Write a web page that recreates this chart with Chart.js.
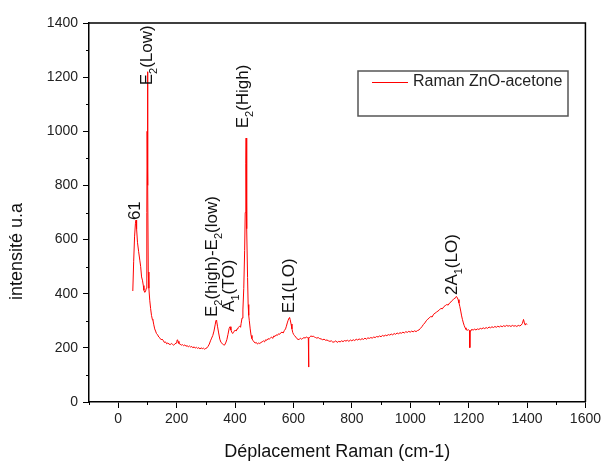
<!DOCTYPE html>
<html>
<head>
<meta charset="utf-8">
<script src="https://cdn.jsdelivr.net/npm/chart.js@4"></script>
<style>
  html, body { margin: 0; padding: 0; background: #fff; }
  #wrap { width: 604px; height: 461px; }
</style>
</head>
<body>
<div id="wrap"><canvas id="chart" width="604" height="461"></canvas></div>
<script>
// Raman shift (cm-1) and intensity (u.a)
const ramanShift = [
  50, 53, 56, 59, 61, 63, 66, 70, 74, 77, 80, 83, 86, 88, 91, 94, 96, 98, 99, 100,
  101, 102, 103, 105, 108, 111, 114, 117, 119, 122, 125, 128, 131, 135, 139, 143, 147, 150, 154, 158,
  162, 166, 170, 174, 178, 182, 186, 190, 194, 198, 201, 203, 205, 208, 212, 216, 220, 224, 228, 232,
  236, 240, 244, 248, 252, 256, 260, 264, 268, 272, 276, 280, 284, 288, 292, 296, 300, 304, 308, 312,
  316, 320, 324, 328, 332, 335, 337, 340, 344, 348, 352, 356, 360, 364, 368, 372, 376, 380, 383, 386,
  389, 392, 395, 398, 401, 404, 407, 410, 413, 416, 419, 421, 424, 427, 430, 433, 435, 437, 438, 439,
  440, 441, 443, 445, 447, 449, 452, 455, 458, 461, 465, 469, 473, 477, 481, 485, 489, 493, 497, 501,
  505, 509, 513, 517, 521, 525, 529, 533, 537, 541, 545, 549, 553, 557, 561, 565, 569, 573, 576, 579,
  582, 585, 587, 589, 592, 595, 598, 601, 604, 608, 612, 616, 620, 624, 628, 632, 636, 640, 644, 648,
  651, 652, 653, 656, 660, 664, 668, 672, 676, 680, 685, 690, 695, 700, 705, 710, 715, 720, 725, 730,
  735, 740, 745, 750, 755, 760, 765, 770, 775, 780, 785, 790, 795, 800, 805, 810, 815, 820, 825, 830,
  835, 840, 845, 850, 855, 860, 865, 870, 875, 880, 885, 890, 895, 900, 905, 910, 915, 920, 925, 930,
  935, 940, 945, 950, 955, 960, 965, 970, 975, 980, 985, 990, 995, 1000, 1005, 1010, 1015, 1020, 1025, 1030,
  1035, 1040, 1045, 1050, 1055, 1060, 1065, 1070, 1075, 1080, 1085, 1090, 1095, 1100, 1105, 1110, 1115, 1120, 1125, 1130,
  1135, 1140, 1145, 1150, 1155, 1158, 1161, 1164, 1167, 1170, 1173, 1176, 1179, 1182, 1185, 1188, 1191, 1195, 1199, 1203,
  1204, 1205, 1208, 1212, 1216, 1220, 1225, 1230, 1235, 1240, 1245, 1250, 1255, 1260, 1265, 1270, 1275, 1280, 1285, 1290,
  1295, 1300, 1305, 1310, 1315, 1320, 1325, 1330, 1335, 1340, 1345, 1350, 1355, 1360, 1365, 1370, 1375, 1380, 1384, 1388,
  1391, 1394, 1397, 1400
];
const intensity = [
  410, 520, 610, 660, 672, 640, 590, 555, 524, 500, 462, 450, 430, 413, 405, 410, 420, 700, 1000, 1220,
  1150, 800, 480, 420, 376, 345, 320, 305, 302, 285, 270, 262, 253, 248, 240, 236, 230, 232, 228, 220,
  222, 215, 218, 214, 212, 216, 213, 210, 214, 218, 226, 230, 224, 216, 214, 210, 212, 208, 211, 206,
  208, 204, 207, 203, 205, 200, 204, 199, 202, 198, 201, 196, 200, 197, 199, 195, 198, 200, 206, 214,
  226, 236, 246, 262, 285, 302, 300, 280, 255, 232, 220, 216, 212, 210, 218, 230, 250, 272, 278, 266,
  258, 253, 258, 262, 266, 262, 270, 274, 277, 280, 276, 290, 310, 340, 420, 560, 700, 880, 975, 960,
  820, 640, 460, 360, 320, 300, 270, 246, 234, 228, 222, 218, 220, 214, 218, 216, 220, 222, 226, 222,
  230, 228, 234, 232, 236, 240, 235, 244, 242, 248, 246, 252, 250, 256, 258, 255, 264, 270, 280, 292,
  302, 310, 312, 304, 288, 270, 256, 249, 245, 240, 234, 231, 231, 236, 232, 235, 238, 236, 240, 238,
  237, 129, 236, 240, 244, 242, 243, 240, 238, 236, 238, 234, 233, 230, 232, 228, 229, 226, 224, 226,
  221, 222, 226, 220, 224, 222, 226, 223, 227, 225, 228, 224, 229, 226, 230, 227, 232, 229, 233, 230,
  234, 231, 236, 232, 237, 235, 238, 236, 240, 238, 242, 240, 244, 241, 246, 243, 247, 245, 249, 247,
  251, 248, 253, 250, 255, 252, 256, 254, 258, 255, 260, 257, 261, 258, 262, 259, 263, 260, 264, 266,
  272, 278, 286, 292, 300, 306, 310, 316, 314, 324, 328, 332, 336, 340, 346, 344, 352, 356, 360, 358,
  366, 370, 376, 382, 384, 390, 386, 378, 366, 352, 336, 318, 304, 292, 282, 274, 268, 265, 267, 264,
  201, 262, 266, 268, 265, 270, 266, 270, 268, 272, 270, 274, 271, 275, 272, 277, 274, 278, 275, 279,
  276, 280, 277, 281, 278, 282, 279, 283, 280, 282, 279, 283, 280, 282, 279, 283, 281, 284, 290, 305,
  292, 284, 290, 286
];

// peak labels: text ('_' = next char subscript) and anchor (shift, intensity)
const peakLabels = ['61', 'E_2(Low)', 'E_2(high)-E_2(low)', 'A_1(TO)', 'E_2(High)', 'E1(LO)', '2A_1(LO)'];
const peakShift = [74, 115, 338, 395, 444, 603, 1160];
const peakLevel = [672, 1170, 314, 333, 1011, 328, 395];

const xRange = [-100, 1600];
const xTickLabels = [0, 200, 400, 600, 800, 1000, 1200, 1400, 1600];
const yRange = [0, 1400];
const yTickLabels = [0, 200, 400, 600, 800, 1000, 1200, 1400];

const FONT = "'Liberation Sans', Arial, sans-serif";

function drawRotated(ctx, x, y, label, size) {
    ctx.save();
    ctx.translate(x, y);
    ctx.rotate(-Math.PI / 2);
    ctx.textAlign = 'left';
    ctx.textBaseline = 'alphabetic';
    ctx.fillStyle = '#111';
    let cx = 0;
    for (let i = 0; i < label.length; i++) {
        let ch = label[i];
        let sub = false;
        if (ch === '_') { sub = true; i++; ch = label[i]; }
        ctx.font = (sub ? Math.round(size * 0.65) : size) + 'px ' + FONT;
        ctx.fillText(ch, cx, sub ? size * 0.3 : 0);
        cx += ctx.measureText(ch).width;
    }
    ctx.restore();
}

const decorPlugin = {
    id: 'decor',
    afterDraw(chart) {
        const ctx = chart.ctx;
        const area = chart.chartArea;
        const xs = chart.scales.x, ys = chart.scales.y;

        // frame top and right
        ctx.save();
        ctx.strokeStyle = '#000';
        ctx.lineWidth = 1.5;
        ctx.beginPath();
        ctx.moveTo(area.left, area.top);
        ctx.lineTo(area.right, area.top);
        ctx.lineTo(area.right, area.bottom);
        ctx.stroke();

        // minor ticks, halfway between labelled ones
        ctx.lineWidth = 1;
        ctx.beginPath();
        for (let v = xRange[0]; v < xRange[1]; v += 200) {
            const px = Math.round(xs.getPixelForValue(v)) + 0.5;
            ctx.moveTo(px, area.bottom);
            ctx.lineTo(px, area.bottom + 3);
        }
        for (let v = yRange[0] + 100; v < yRange[1]; v += 200) {
            const py = Math.round(ys.getPixelForValue(v)) + 0.5;
            ctx.moveTo(area.left, py);
            ctx.lineTo(area.left - 3, py);
        }
        ctx.stroke();

        // legend box
        const lx = area.left + 269, ly = area.top + 48;
        ctx.strokeStyle = '#555';
        ctx.lineWidth = 1.5;
        ctx.strokeRect(lx, ly, 210, 45);
        ctx.strokeStyle = chart.data.datasets[0].borderColor;
        ctx.lineWidth = 1;
        ctx.beginPath();
        ctx.moveTo(lx + 14, ly + 11.5);
        ctx.lineTo(lx + 50, ly + 11.5);
        ctx.stroke();
        ctx.fillStyle = '#222';
        ctx.font = '16px ' + FONT;
        ctx.textBaseline = 'middle';
        ctx.fillText(chart.data.datasets[0].label, lx + 55, ly + 11);

        // y title
        drawRotated(ctx, 22, 300, 'intensité u.a', 18);
        ctx.restore();

        // peak labels
        peakLabels.forEach((t, i) => {
            drawRotated(ctx, xs.getPixelForValue(peakShift[i]), ys.getPixelForValue(peakLevel[i]), t, 17);
        });
    }
};

new Chart(document.getElementById('chart'), {
    type: 'line',
    data: {
        datasets: [{
            label: 'Raman ZnO-acetone',
            data: ramanShift.map((x, i) => ({ x: x, y: intensity[i] })),
            borderColor: '#ff0000',
            borderWidth: 1,
            pointRadius: 0,
            tension: 0,
            fill: false,
        }]
    },
    options: {
        responsive: false,
        animation: false,
        layout: { padding: { top: 23, right: 17, left: 0, bottom: 0 } },
        plugins: {
            legend: { display: false },
            tooltip: { enabled: false },
        },
        scales: {
            x: {
                type: 'linear',
                min: xRange[0],
                max: xRange[1],
                afterBuildTicks(scale) { scale.ticks = xTickLabels.map(v => ({ value: v })); },
                ticks: { color: '#222', font: { size: 14, family: FONT }, padding: 3, maxRotation: 0, autoSkip: false,
                         callback: v => String(v) },
                grid: { drawOnChartArea: false, tickLength: 6, tickColor: '#000', tickWidth: 1 },
                border: { color: '#000', width: 1.5 },
                title: { display: true, text: 'Déplacement Raman (cm-1)', color: '#111', font: { size: 18, family: FONT }, padding: { top: 4, bottom: -2 } },
                afterFit(scale) { scale.height = 59; },
            },
            y: {
                type: 'linear',
                min: yRange[0],
                max: yRange[1],
                afterBuildTicks(scale) { scale.ticks = yTickLabels.map(v => ({ value: v })); },
                ticks: { color: '#222', font: { size: 14, family: FONT }, padding: 5, callback: v => String(v) },
                grid: { drawOnChartArea: false, tickLength: 6, tickColor: '#000', tickWidth: 1 },
                border: { color: '#000', width: 1.5 },
                afterFit(scale) { scale.width = 89; },
            }
        }
    },
    plugins: [decorPlugin]
});
</script>
</body>
</html>
